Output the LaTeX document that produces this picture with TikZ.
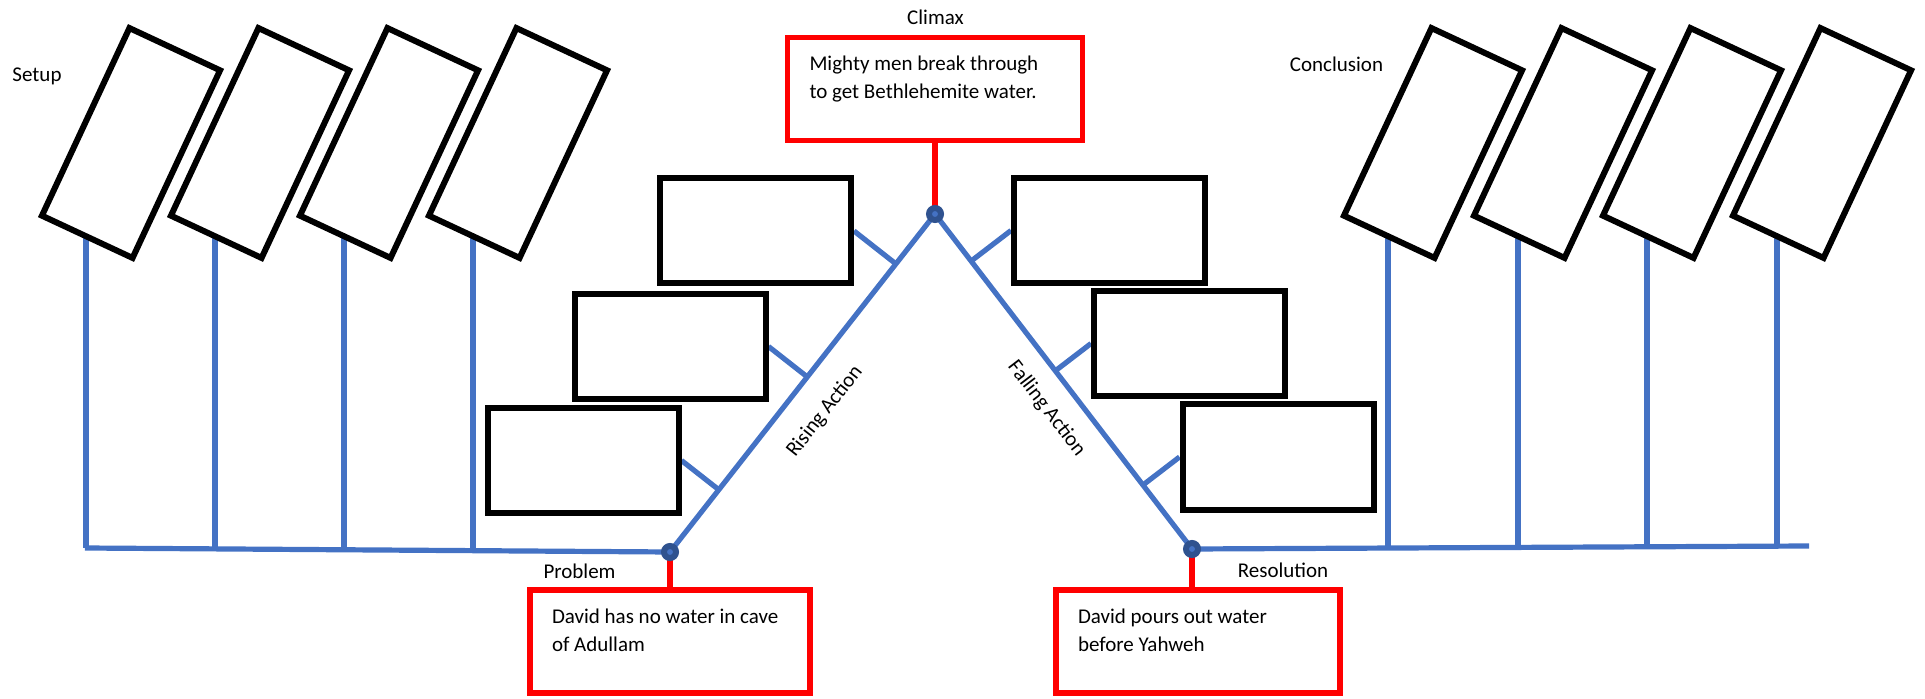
\documentclass[tikz,border=0pt]{standalone}
\usepackage{fontspec}
\setmainfont{Carlito}
\usetikzlibrary{calc,positioning,backgrounds}

\definecolor{plotblue}{HTML}{4472C4}
\definecolor{pivotblue}{HTML}{2F528F}

\newcommand{\boxtext}[2]{\parbox[c][38pt][t]{#1}{\raggedright\strut #2}}

\begin{document}
\begin{tikzpicture}[x=0.5pt, y=-0.5pt, font=\fontsize{10.5}{14}\selectfont]

    \tikzstyle{scenebox} = [rectangle, draw=black, line width=3pt, fill=white, minimum width=50pt, minimum height=103.5pt, inner sep=0pt, rotate=-25]
    \tikzstyle{beatbox}  = [rectangle, draw=black, line width=3pt, fill=white, minimum width=95.5pt, minimum height=52.5pt, inner sep=0pt]
    \tikzstyle{keybox}   = [rectangle, draw=red, line width=2.8pt, fill=white, inner xsep=11pt, inner ysep=6.7pt]
    \tikzstyle{pivot}    = [circle, draw=pivotblue, line width=3pt, fill=plotblue, minimum size=6pt, inner sep=0pt]
    \tikzstyle{plotline} = [draw=plotblue, line width=2.6pt]
    \tikzstyle{redline}  = [draw=red, line width=2.8pt]

    \useasboundingbox (0,0) rectangle (1925,699);

    % turning points
    \coordinate (lbase) at (85,548);
    \coordinate (rbase) at (1809,546);
    \node (probdot) [pivot] at (670,552)  {};
    \node (climdot) [pivot] at (935,214)  {};
    \node (resdot)  [pivot] at (1192,549) {};

    % setup and conclusion scenes
    \foreach \i/\x in {1/131,2/260,3/389,4/518}
        \node (s\i) [scenebox] at (\x,143) {};
    \foreach \i/\x in {1/1433,2/1563,3/1692,4/1822}
        \node (c\i) [scenebox] at (\x,143) {};

    % rising and falling action
    \node (r1) [beatbox] at (583,460.5)    {};
    \node (r2) [beatbox] at (670,346.5)    {};
    \node (r3) [beatbox] at (755.5,231)    {};
    \node (f1) [beatbox] at (1109.5,230.5) {};
    \node (f2) [beatbox] at (1189.5,343.5) {};
    \node (f3) [beatbox] at (1278,457)     {};

    % key moments
    \node (climbox) [keybox] at (935,89)     {\boxtext{125.5pt}{Mighty men break through\\to get Bethlehemite water.}};
    \node (probbox) [keybox] at (670,641.5)  {\boxtext{118pt}{David has no water in cave\\of Adullam}};
    \node (resbox)  [keybox] at (1198,641.5) {\boxtext{120pt}{David pours out water\\before Yahweh}};

    \node (setup)   at (37,76)      {Setup};
    \node (concl)   at (1336.5,64)  {Conclusion};
    \node (climax)  at (935.5,17)   {Climax};
    \node (problem) at (579.5,571)  {Problem};
    \node (resol)   at (1283,570)   {Resolution};

    \begin{scope}[on background layer]
        \draw[plotline] (lbase) -- (probdot.center) -- (climdot.center) -- (resdot.center) -- (rbase);

        \foreach \i in {1,...,4} {
            \draw[plotline] ($(s\i.center)+(-45,0)$) coordinate (sv) -- (sv |- lbase);
            \draw[plotline] ($(c\i.center)+(-45,0)$) coordinate (cv) -- (cv |- rbase);
        }

        \foreach \b in {r1,r2,r3}
            \draw[plotline] (\b.east) -- ($(probdot.center)!(\b.east)!(climdot.center)$);
        \foreach \b in {f1,f2,f3}
            \draw[plotline] (\b.west) -- ($(climdot.center)!(\b.west)!(resdot.center)$);

        \draw[redline] (climbox.south)  -- (climdot.center);
        \draw[redline] (probdot.center) -- (probbox.north);
        \draw[redline] (resdot.center)  -- (resdot |- resbox.north);
    \end{scope}

    \path (probdot.center) -- (climdot.center) node [pos=0.48,  sloped, below=9.5pt] (rising)  {Rising Action};
    \path (climdot.center) -- (resdot.center)  node [pos=0.527, sloped, below=7pt]   (falling) {Falling Action};

\end{tikzpicture}
\end{document}
